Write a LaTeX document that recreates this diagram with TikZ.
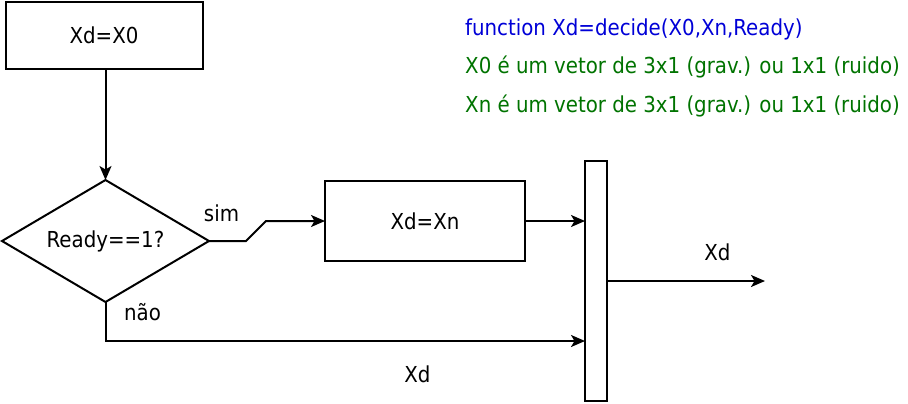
\documentclass[tikz,border=0pt]{standalone}
\usepackage{fontspec}
\setmainfont{DejaVu Sans Condensed}
\usetikzlibrary{shapes.geometric,arrows.meta}
\definecolor{fnblue}{RGB}{0,0,215}
\definecolor{cmgreen}{RGB}{0,115,0}
\tikzset{
  box/.style={draw,line width=2pt,rectangle,inner sep=0pt,outer sep=0pt,font=\fontsize{22}{26}\selectfont},
  decbox/.style={draw,line width=2pt,diamond,aspect=1.7,inner sep=0pt,outer sep=0pt,minimum width=207pt,minimum height=122pt,font=\fontsize{22}{26}\selectfont},
  conn/.style={line width=2pt,-{Stealth[length=14pt,width=12pt,inset=3.5pt]}},
  lbl/.style={anchor=base,inner sep=0pt,font=\fontsize{22}{26}\selectfont},
  note/.style={anchor=base west,inner sep=0pt,font=\fontsize{22}{26}\selectfont}
}
\begin{document}
\begin{tikzpicture}[x=1pt,y=-1pt]
\useasboundingbox (0,0) rectangle (908,404);
\node[box,minimum width=197pt,minimum height=67pt] (x0) at (104,35.5) {Xd=X0};
\node[decbox] (dec) at (105.5,241) {Ready==1?};
\node[box,minimum width=200pt,minimum height=80pt] (xn) at (425,221) {Xd=Xn};
\node[box,minimum width=22pt,minimum height=240pt] (bar) at (596,281) {};
\coordinate (nao) at (585,341);
\coordinate (out) at (765,281);
\draw[conn] (dec.north |- x0.south) -- (dec.north);
\draw[conn] (dec.east) -- ++(37,0) -- ++(20,-20) -- (xn.west);
\draw[conn] (xn.east) -- (xn.east -| bar.west);
\draw[conn] (dec.south) |- (nao);
\draw[conn] (bar.east |- out) -- (out);
\node[lbl] (lsim) at (221.5,221) {sim};
\node[lbl] (lnao) at (142.5,320.5) {não};
\node[lbl] (lxd1) at (717.5,260) {Xd};
\node[lbl] (lxd2) at (417.5,382) {Xd};
\node[note,text=fnblue] (fn) at (465,36) {function Xd=decide(X0,Xn,Ready)};
\node[note,text=cmgreen] (c1) at (465,74) {X0 é um vetor de 3x1 (grav.) ou 1x1 (ruido)};
\node[note,text=cmgreen] (c2) at (465,112) {Xn é um vetor de 3x1 (grav.) ou 1x1 (ruido)};
\end{tikzpicture}
\end{document}
